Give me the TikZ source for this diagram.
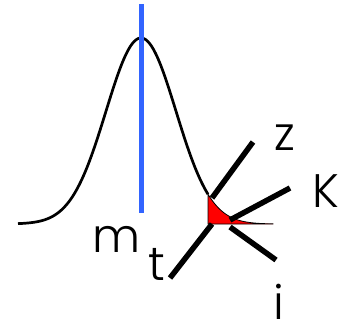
\documentclass[tikz,border=0pt]{standalone}
\usepackage{fontspec}
\setmainfont{Poppins}[UprightFont=* Light]
\begin{document}
\begin{tikzpicture}[x=1pt,y=-1pt,
  lbl/.style={inner sep=0pt, anchor=base, font=\fontsize{47}{50}\selectfont},
  thickline/.style={line width=5.5pt, black},
  gcurve/.style={line width=2.7pt, black}]
\useasboundingbox (0,0) rectangle (347,326);
% red tail area
\filldraw[fill=red, draw=black, line width=0.8pt] (208,224) -- plot[domain=208:273, samples=60] (\x, {224-186*exp(-0.5*((\x-141)/35)^2)}) -- (273,224) -- cycle;
% gaussian
\draw[gcurve] plot[domain=18:208, samples=150] (\x, {224-186*exp(-0.5*((\x-141)/35)^2)});
% blue line
\coordinate (btop) at (141,4);
\coordinate (bbot) at (141,213);
\draw[line width=5pt, color={rgb,255:red,50;green,100;blue,255}] (btop) -- (bbot);
% thick lines
\coordinate (tA) at (170,278);
\coordinate (tB) at (212,224);
\coordinate (zA) at (212,198);
\coordinate (zB) at (253,142);
\coordinate (kA) at (230,220);
\coordinate (kB) at (290,188);
\coordinate (iA) at (230,227);
\coordinate (iB) at (276,260);
\draw[thickline] (tA) -- (tB);
\draw[thickline] (zA) -- (zB);
\draw[thickline] (kA) -- (kB);
\draw[thickline] (iA) -- (iB);
% labels
\node[lbl] (m) at (117,252) {m};
\node[lbl] (t) at (157,280) {t};
\node[lbl] (z) at (285,150) {z};
\node[lbl] (K) at (326,207) {K};
\node[lbl] (i) at (279,319) {i};
\end{tikzpicture}
\end{document}
